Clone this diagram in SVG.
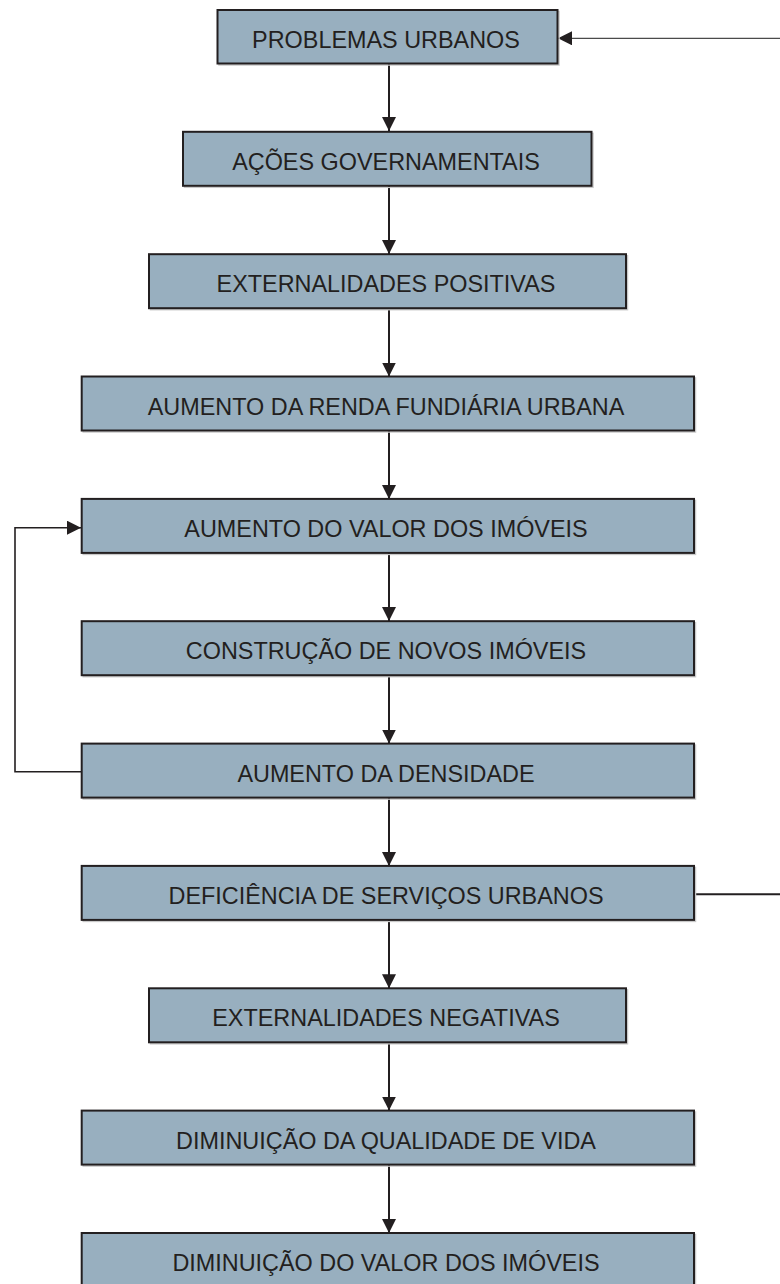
<svg xmlns="http://www.w3.org/2000/svg" width="780" height="1284" viewBox="0 0 780 1284">
<defs>
<style>
.box{fill:#98afbf;stroke:#231f20;stroke-width:2}
.sh{fill:none;stroke:#c9c9c9;stroke-width:1.5}
.t{font-family:"Liberation Sans",Arial,sans-serif;font-size:23.4px;fill:#231f20;text-anchor:middle}
.c{fill:none;stroke:#231f20;stroke-width:2}
.thin{fill:none;stroke:#4a4a4a;stroke-width:1.2}
</style>
<marker id="ah" markerUnits="userSpaceOnUse" markerWidth="15" markerHeight="15" refX="14" refY="7" orient="auto">
<path d="M0,0 L14,7 L0,14 z" fill="#231f20"/>
</marker>
</defs>
<rect width="780" height="1284" fill="#ffffff"/>
<g id="connectors">
<line class="c" x1="389" y1="64" x2="389" y2="131" marker-end="url(#ah)"/>
<line class="c" x1="389" y1="186" x2="389" y2="254" marker-end="url(#ah)"/>
<line class="c" x1="389" y1="308" x2="389" y2="376.5" marker-end="url(#ah)"/>
<line class="c" x1="389" y1="431" x2="389" y2="499" marker-end="url(#ah)"/>
<line class="c" x1="389" y1="553" x2="389" y2="621" marker-end="url(#ah)"/>
<line class="c" x1="389" y1="675" x2="389" y2="743.5" marker-end="url(#ah)"/>
<line class="c" x1="389" y1="798" x2="389" y2="866" marker-end="url(#ah)"/>
<line class="c" x1="389" y1="920" x2="389" y2="988.3" marker-end="url(#ah)"/>
<line class="c" x1="389" y1="1043" x2="389" y2="1110.6" marker-end="url(#ah)"/>
<line class="c" x1="389" y1="1165" x2="389" y2="1233" marker-end="url(#ah)"/>
<path class="c" style="stroke-width:1.6" d="M82,771.7 H15 V527.7 H81" marker-end="url(#ah)"/>
<line class="c" x1="694" y1="894.3" x2="780" y2="894.3"/>
<line class="thin" x1="780" y1="38.3" x2="558" y2="38.3" marker-end="url(#ah)"/>
</g>
<g id="n1"><rect class="sh" x="219" y="11.5" width="340" height="53.5"/><rect class="box" x="217.5" y="10" width="340" height="53.5"/><text class="t" x="386" y="47.5">PROBLEMAS URBANOS</text></g>
<g id="n2"><rect class="sh" x="184.5" y="133.3" width="408.5" height="54"/><rect class="box" x="183" y="131.8" width="408.5" height="54"/><text class="t" x="386" y="169.9">AÇÕES GOVERNAMENTAIS</text></g>
<g id="n3"><rect class="sh" x="150.5" y="255.7" width="477" height="54"/><rect class="box" x="149" y="254.2" width="477" height="54"/><text class="t" x="386" y="292.2">EXTERNALIDADES POSITIVAS</text></g>
<g id="n4"><rect class="sh" x="83.2" y="378" width="612.3" height="54"/><rect class="box" x="81.7" y="376.5" width="612.3" height="54"/><text class="t" x="386" y="414.5">AUMENTO DA RENDA FUNDIÁRIA URBANA</text></g>
<g id="n5"><rect class="sh" x="83.2" y="500.4" width="612.3" height="54"/><rect class="box" x="81.7" y="498.9" width="612.3" height="54"/><text class="t" x="386" y="536.9">AUMENTO DO VALOR DOS IMÓVEIS</text></g>
<g id="n6"><rect class="sh" x="83.2" y="622.7" width="612.3" height="54"/><rect class="box" x="81.7" y="621.2" width="612.3" height="54"/><text class="t" x="386" y="659.2">CONSTRUÇÃO DE NOVOS IMÓVEIS</text></g>
<g id="n7"><rect class="sh" x="83.2" y="745.1" width="612.3" height="54"/><rect class="box" x="81.7" y="743.6" width="612.3" height="54"/><text class="t" x="386" y="781.6">AUMENTO DA DENSIDADE</text></g>
<g id="n8"><rect class="sh" x="83.2" y="867.4" width="612.3" height="54"/><rect class="box" x="81.7" y="865.9" width="612.3" height="54"/><text class="t" x="386" y="903.9">DEFICIÊNCIA DE SERVIÇOS URBANOS</text></g>
<g id="n9"><rect class="sh" x="150.5" y="989.8" width="477" height="54"/><rect class="box" x="149" y="988.3" width="477" height="54"/><text class="t" x="386" y="1026.3">EXTERNALIDADES NEGATIVAS</text></g>
<g id="n10"><rect class="sh" x="83.2" y="1112.1" width="612.3" height="54"/><rect class="box" x="81.7" y="1110.6" width="612.3" height="54"/><text class="t" x="386" y="1148.6">DIMINUIÇÃO DA QUALIDADE DE VIDA</text></g>
<g id="n11"><rect class="sh" x="83.2" y="1234.5" width="612.3" height="54"/><rect class="box" x="81.7" y="1233" width="612.3" height="54"/><text class="t" x="386" y="1271">DIMINUIÇÃO DO VALOR DOS IMÓVEIS</text></g>
</svg>
